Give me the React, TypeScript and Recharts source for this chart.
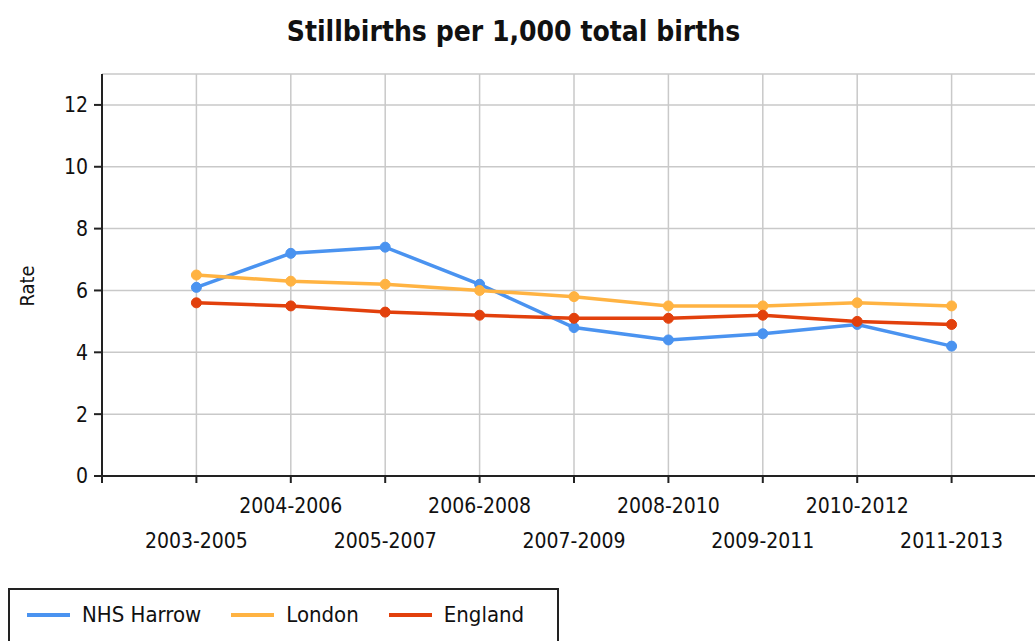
import React from 'react';
import { LineChart, Line, XAxis, YAxis, CartesianGrid, Legend } from 'recharts';

const categories = ['2003-2005', '2004-2006', '2005-2007', '2006-2008', '2007-2009', '2008-2010', '2009-2011', '2010-2012', '2011-2013'];
const harrow = [6.1, 7.2, 7.4, 6.2, 4.8, 4.4, 4.6, 4.9, 4.2];
const london = [6.5, 6.3, 6.2, 6.0, 5.8, 5.5, 5.5, 5.6, 5.5];
const england = [5.6, 5.5, 5.3, 5.2, 5.1, 5.1, 5.2, 5.0, 4.9];
const yTicks = [0, 2, 4, 6, 8, 10, 12];

const series = [
  { key: 'harrow', name: 'NHS Harrow', color: '#4A93F0' },
  { key: 'london', name: 'London', color: '#FFB342' },
  { key: 'england', name: 'England', color: '#E2400C' },
];

const data = categories.map((c, i) => ({
  pos: i + 1,
  cat: c,
  harrow: harrow[i],
  london: london[i],
  england: england[i],
}));

const FONT = "'DejaVu Sans Condensed', 'DejaVu Sans', sans-serif";

const XTick = (props: any) => {
  const { x, y, payload } = props;
  const v = payload.value;
  if (v < 1 || v > categories.length) return null;
  const label = categories[v - 1];
  const dy = v % 2 === 0 ? 28 : 63;
  return (
    <text x={x} y={y + dy} textAnchor="middle" fontFamily={FONT} fontStretch="condensed" fontSize={21} fill="#111">
      {label}
    </text>
  );
};

const LegendContent = () => (
  <div
    style={{
      boxSizing: 'border-box',
      width: 551,
      height: 70,
      border: '2px solid #222',
      display: 'flex',
      alignItems: 'flex-start',
      paddingTop: 12,
      paddingLeft: 17,
      fontFamily: FONT,
      fontStretch: 'condensed',
      fontSize: 22,
      color: '#111',
    }}
  >
    {series.map((s) => (
      <div key={s.key} style={{ display: 'flex', alignItems: 'center', marginRight: 30 }}>
        <div style={{ width: 43, height: 4, background: s.color, marginRight: 12 }} />
        <span>{s.name}</span>
      </div>
    ))}
  </div>
);

export default function App() {
  return (
    <div style={{ position: 'absolute', left: 0, top: 0, width: 1035, height: 641, overflow: 'hidden', background: '#fff' }}>
      <div
        style={{
          position: 'absolute',
          left: 0,
          top: 12,
          width: 1027,
          textAlign: 'center',
          fontFamily: FONT,
          fontStretch: 'condensed',
          fontWeight: 'bold',
          fontSize: 28,
          color: '#111',
          lineHeight: '40px',
        }}
      >
        Stillbirths per 1,000 total births
      </div>
      <LineChart width={1046} height={641} data={data} margin={{ top: 74, right: 0, bottom: 0, left: 0 }}>
        <CartesianGrid stroke="#c9c9c9" strokeWidth={1.5} />
        <XAxis
          dataKey="pos"
          type="number"
          domain={[0, 10]}
          ticks={[0, 1, 2, 3, 4, 5, 6, 7, 8, 9, 10]}
          interval={0}
          height={112}
          tick={<XTick />}
          tickSize={7}
          stroke="#222"
          strokeWidth={2}
          tickLine={{ stroke: '#222', strokeWidth: 2 }}
        />
        <YAxis
          type="number"
          domain={[0, 13]}
          ticks={yTicks}
          width={102}
          tickSize={8}
          tickMargin={6}
          stroke="#222"
          strokeWidth={2}
          tickLine={{ stroke: '#222', strokeWidth: 2 }}
          tick={{ fontFamily: FONT, fontStretch: 'condensed', fontSize: 21, fill: '#111' } as any}
          label={(p: any) => {
            const vb = p.viewBox;
            const cy = vb.y + vb.height / 2 + 11;
            return (
              <text x={34} y={cy} transform={`rotate(-90, 34, ${cy})`} textAnchor="middle" fontFamily={FONT} fontStretch="condensed" fontSize={20} fill="#111">
                Rate
              </text>
            );
          }}
        />
        <Legend
          verticalAlign="bottom"
          height={53}
          wrapperStyle={{ left: 8, width: 551, bottom: 0, height: 53, overflow: 'visible' }}
          content={<LegendContent />}
        />
        {series.map((s) => (
          <Line
            key={s.key}
            type="linear"
            dataKey={s.key}
            name={s.name}
            stroke={s.color}
            strokeWidth={3.5}
            dot={{ r: 5, fill: s.color, stroke: s.color, strokeWidth: 1 }}
            activeDot={false}
            isAnimationActive={false}
          />
        ))}
      </LineChart>
    </div>
  );
}
